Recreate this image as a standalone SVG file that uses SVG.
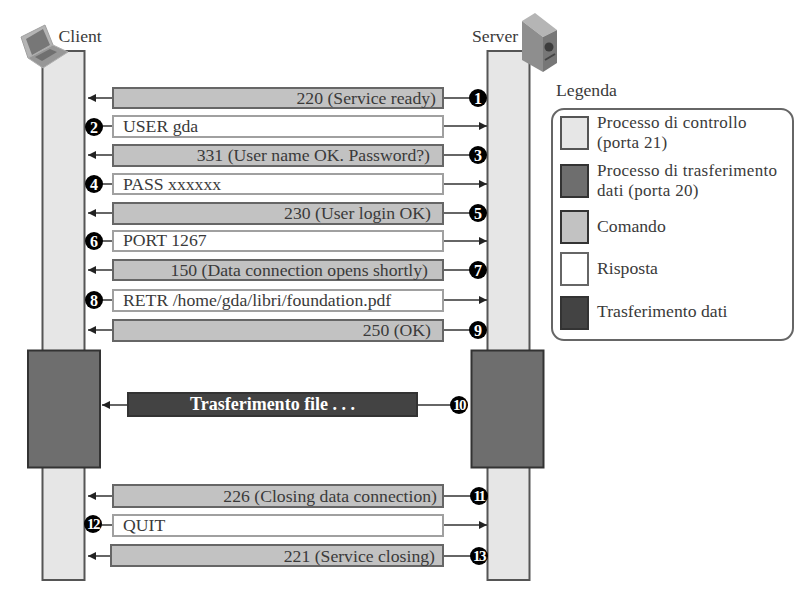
<svg xmlns="http://www.w3.org/2000/svg" width="808" height="596" viewBox="0 0 808 596">
<defs>
<marker id="ah" markerUnits="userSpaceOnUse" markerWidth="10" markerHeight="10" refX="8" refY="4" orient="auto"><path d="M0,0L8,4L0,8Z" fill="#222"/></marker>
</defs>
<style>
text{font-family:"Liberation Serif",serif;font-size:17.7px;fill:#3a3a3a}
.b{stroke:#555;stroke-width:2}
.ctl{fill:#e6e6e6}
.dp{fill:#6e6e6e;stroke:#333;stroke-width:2}
.cmd{fill:#c2c2c2;stroke:#666;stroke-width:2}
.rsp{fill:#fff;stroke:#a0a0a0;stroke-width:2}
.dt{fill:#434343;stroke:#333;stroke-width:2}
.c{stroke:#333;stroke-width:1.5;fill:none}
.a{marker-end:url(#ah)}
.n{fill:#fff;font-size:16px;font-weight:bold;text-anchor:middle}
.nn{font-size:15px;letter-spacing:-1.5px}
.e{text-anchor:end}
.t{font-size:17px;letter-spacing:.3px}
</style>
<rect width="808" height="596" fill="#fff"/>
<g id="client">
<rect class="ctl b" x="42.500" y="51" width="42" height="529"/>
<path d="M21 37L45 25L53 45L28 58Z" fill="#b4b4b4" stroke="#a0a0a0"/>
<path d="M26 39L43 29L50 45L32 55Z" fill="#777"/>
<path d="M28 58L53 45L68 52L43 68Z" fill="#979797" stroke="#b0b0b0"/>
<path d="M35 57L50 49L57 52L42 61Z" fill="#707070"/>
<text x="58.500" y="42">Client</text>
</g>
<g id="server">
<rect class="ctl b" x="487.500" y="51" width="42" height="529"/>
<path d="M522 21L535 13L557 30L543 37Z" fill="#b5b5b5"/>
<path d="M522 21L543 37V72L522 60Z" fill="#8e8e8e"/>
<path d="M543 37L557 30V63L543 72Z" fill="#777"/>
<circle cx="549" cy="47" r="4.500" fill="#3c3c3c"/>
<path d="M545 60L555 54" stroke="#444" stroke-width="2"/>
<text x="472" y="42">Server</text>
</g>
<g id="data-proc-client"><rect class="dp" x="28" y="350.500" width="72" height="117"/></g>
<g id="data-proc-server"><rect class="dp" x="471.500" y="350.500" width="72" height="117"/></g>
<g id="connectors">
<path class="c a" d="M113 98H88"/><path class="c" d="M443 98H470"/>
<path class="c" d="M113 126H98"/><path class="c a" d="M443 126H487"/>
<path class="c a" d="M113 155H88"/><path class="c" d="M443 155H470"/>
<path class="c" d="M113 184H98"/><path class="c a" d="M443 184H487"/>
<path class="c a" d="M113 213H88"/><path class="c" d="M443 213H470"/>
<path class="c" d="M113 241H98"/><path class="c a" d="M443 241H487"/>
<path class="c a" d="M113 270H88"/><path class="c" d="M443 270H470"/>
<path class="c" d="M113 300H98"/><path class="c a" d="M443 300H487"/>
<path class="c a" d="M113 330H88"/><path class="c" d="M443 330H470"/>
<path class="c a" d="M128 405H102"/><path class="c" d="M417 405H452"/>
<path class="c a" d="M113 496H88"/><path class="c" d="M443 496H472"/>
<path class="c" d="M113 525H100"/><path class="c a" d="M443 525H487"/>
<path class="c a" d="M111 556H88"/><path class="c" d="M443 556H472"/>
</g>
<g id="m1"><rect class="cmd" x="113" y="88" width="330" height="20"/><text class="e" x="436" y="104">220 (Service ready)</text><circle cx="478" cy="98" r="9"/><text class="n" x="478" y="103.500">1</text></g>
<g id="m2"><rect class="rsp" x="113" y="116" width="330" height="21"/><text x="123" y="132">USER gda</text><circle cx="94" cy="127" r="9"/><text class="n" x="94" y="132.500">2</text></g>
<g id="m3"><rect class="cmd" x="113" y="145" width="330" height="21"/><text class="e" x="430" y="161">331 (User name OK. Password?)</text><circle cx="478" cy="155" r="9"/><text class="n" x="478" y="160.500">3</text></g>
<g id="m4"><rect class="rsp" x="113" y="174" width="330" height="20"/><text x="123" y="190">PASS xxxxxx</text><circle cx="94" cy="184" r="9"/><text class="n" x="94" y="189.500">4</text></g>
<g id="m5"><rect class="cmd" x="113" y="203" width="330" height="21"/><text class="e" x="431" y="219">230 (User login OK)</text><circle cx="478" cy="213" r="9"/><text class="n" x="478" y="218.500">5</text></g>
<g id="m6"><rect class="rsp" x="113" y="231" width="330" height="20"/><text x="123" y="246">PORT 1267</text><circle cx="94" cy="241" r="9"/><text class="n" x="94" y="246.500">6</text></g>
<g id="m7"><rect class="cmd" x="113" y="260" width="330" height="20"/><text class="e" x="428" y="276">150 (Data connection opens shortly)</text><circle cx="478" cy="270" r="9"/><text class="n" x="478" y="275.500">7</text></g>
<g id="m8"><rect class="rsp" x="113" y="290" width="330" height="21"/><text x="123" y="306">RETR /home/gda/libri/foundation.pdf</text><circle cx="94" cy="300" r="9"/><text class="n" x="94" y="305.500">8</text></g>
<g id="m9"><rect class="cmd" x="113" y="320" width="330" height="21"/><text class="e" x="431" y="336">250 (OK)</text><circle cx="478" cy="330" r="9"/><text class="n" x="478" y="335.500">9</text></g>
<g id="m10"><rect class="dt" x="128" y="393" width="289" height="23"/><text x="190" y="410" style="fill:#fff;font-weight:bold;font-size:18px">Trasferimento file . . .</text><circle cx="459" cy="405" r="9"/><text class="n nn" x="459" y="410">10</text></g>
<g id="m11"><rect class="cmd" x="113" y="485" width="330" height="22"/><text class="e" x="437" y="502">226 (Closing data connection)</text><circle cx="479" cy="496" r="9"/><text class="n nn" x="479" y="501">11</text></g>
<g id="m12"><rect class="rsp" x="113" y="515" width="330" height="21"/><text x="123" y="531">QUIT</text><circle cx="93" cy="524" r="9"/><text class="n nn" x="93" y="529">12</text></g>
<g id="m13"><rect class="cmd" x="111" y="545" width="332" height="21"/><text class="e" x="435" y="562">221 (Service closing)</text><circle cx="479" cy="556" r="9"/><text class="n nn" x="479" y="561">13</text></g>
<g id="legend">
<text x="556" y="96">Legenda</text>
<rect x="552" y="109" width="241" height="231" rx="12" fill="#fff" stroke="#666" stroke-width="2"/>
<rect class="ctl b" x="561" y="117" width="27" height="32"/>
<rect class="dp" x="561" y="165" width="27" height="32"/>
<rect class="cmd" style="stroke:#333" x="561" y="211" width="27" height="32"/>
<rect class="rsp" style="stroke:#666" x="561" y="253" width="27" height="32"/>
<rect class="dt" x="561" y="297" width="27" height="32"/>
<text class="t" x="597" y="128">Processo di controllo<tspan x="597" dy="19.800">(porta 21)</tspan></text>
<text class="t" x="597" y="176">Processo di trasferimento<tspan x="597" dy="19.800">dati (porta 20)</tspan></text>
<text x="597" y="232">Comando</text>
<text x="597" y="274">Risposta</text>
<text x="597" y="317">Trasferimento dati</text>
</g>
</svg>
